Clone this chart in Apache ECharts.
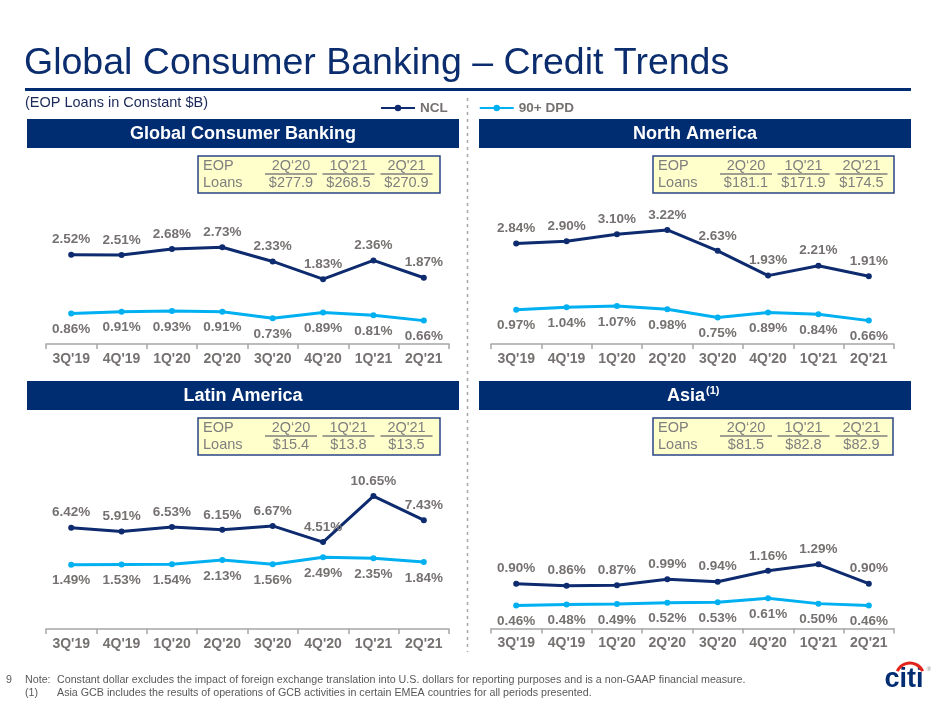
<!DOCTYPE html>
<html><head><meta charset="utf-8">
<script src="https://cdn.jsdelivr.net/npm/echarts@6/dist/echarts.min.js"></script>
<style>html,body{margin:0;padding:0;background:#fff}#c{width:943px;height:701px}</style>
</head><body><div id="c"></div>
<script>
// ---------- DATA ----------
const categories = ["3Q'19","4Q'19","1Q'20","2Q'20","3Q'20","4Q'20","1Q'21","2Q'21"];
const seriesNames = ["NCL","90+ DPD"];

const gcbNCL  = [2.52,2.51,2.68,2.73,2.33,1.83,2.36,1.87];
const gcbDPD  = [0.86,0.91,0.93,0.91,0.73,0.89,0.81,0.66];
const naNCL   = [2.84,2.90,3.10,3.22,2.63,1.93,2.21,1.91];
const naDPD   = [0.97,1.04,1.07,0.98,0.75,0.89,0.84,0.66];
const latNCL  = [6.42,5.91,6.53,6.15,6.67,4.51,10.65,7.43];
const latDPD  = [1.49,1.53,1.54,2.13,1.56,2.49,2.35,1.84];
const asiaNCL = [0.90,0.86,0.87,0.99,0.94,1.16,1.29,0.90];
const asiaDPD = [0.46,0.48,0.49,0.52,0.53,0.61,0.50,0.46];

const eopPeriods = ["2Q\u201820","1Q'21","2Q'21"];
const gcbEOP  = [277.9,268.5,270.9];
const naEOP   = [181.1,171.9,174.5];
const latEOP  = [15.4,13.8,13.5];
const asiaEOP = [81.5,82.8,82.9];

const panelTitles = ["Global Consumer Banking","North America","Latin America","Asia"];
const mainTitle = "Global Consumer Banking \u2013 Credit Trends";
const subTitle = "(EOP Loans in Constant $B)";
const note1 = "Constant dollar excludes the impact of foreign exchange translation into U.S. dollars for reporting purposes and is a non-GAAP financial measure.";
const note2 = "Asia GCB includes the results of operations of GCB activities in certain EMEA countries for all periods presented.";

// ---------- STYLE / LAYOUT ----------
const FONT = "'Liberation Sans', Arial, sans-serif";
const NAVY = '#0d2b6e', BLUE = '#00b0f0', GRAY = '#767171', HDR = '#002d72', TITLE = '#0b2d6e';

const panels = [
  {title:panelTitles[0], ncl:gcbNCL, dpd:gcbDPD, eop:gcbEOP, grid:{left:46,top:220,width:403,height:124}, min:0, max:3.5, hdr:[27,119], box:[198,156,242]},
  {title:panelTitles[1], ncl:naNCL, dpd:naDPD, eop:naEOP, grid:{left:491,top:220,width:403,height:124}, min:0, max:3.5, hdr:[479,119], box:[653,156,241]},
  {title:panelTitles[2], ncl:latNCL, dpd:latDPD, eop:latEOP, grid:{left:46,top:486,width:403,height:143}, min:-7.1, max:12, hdr:[27,381], box:[198,418,242]},
  {title:panelTitles[3], ncl:asiaNCL, dpd:asiaDPD, eop:asiaEOP, grid:{left:491,top:529,width:403,height:99.5}, min:0, max:2, hdr:[479,381], box:[653,418,240]}
];

const grids = [], xAxes = [], yAxes = [], series = [], graphics = [];

const fmt = p => p.value.toFixed(2) + '%';

panels.forEach((p, i) => {
  grids.push(Object.assign({}, p.grid));
  xAxes.push({
    type:'category', gridIndex:i, data:categories, boundaryGap:true,
    axisLine:{show:true, onZero:false, lineStyle:{color:'#a6a6a6', width:1.5}},
    axisTick:{show:true, length:5, lineStyle:{color:'#a6a6a6', width:1.5}},
    axisLabel:{color:GRAY, fontSize:14, fontWeight:'bold', fontFamily:FONT, margin:8},
    splitLine:{show:false}
  });
  yAxes.push({type:'value', gridIndex:i, min:p.min, max:p.max, show:false, splitLine:{show:false}});
  series.push({
    name:seriesNames[1], type:'line', xAxisIndex:i, yAxisIndex:i, data:p.dpd,
    symbol:'circle', symbolSize:6, showAllSymbol:true,
    lineStyle:{color:BLUE, width:3}, itemStyle:{color:BLUE},
    label:{show:true, position:'bottom', distance:6, color:GRAY, fontSize:13.5, fontWeight:'bold', fontFamily:FONT, formatter:fmt},
    z:2
  });
  series.push({
    name:seriesNames[0], type:'line', xAxisIndex:i, yAxisIndex:i, data:p.ncl,
    symbol:'circle', symbolSize:6, showAllSymbol:true,
    lineStyle:{color:NAVY, width:3}, itemStyle:{color:NAVY},
    label:{show:true, position:'top', distance:5, color:GRAY, fontSize:13.5, fontWeight:'bold', fontFamily:FONT, formatter:fmt},
    z:3
  });

  // header bar
  const [hx, hy] = p.hdr;
  graphics.push({type:'rect', shape:{x:hx, y:hy, width:432, height:29}, style:{fill:HDR}, silent:true});
  if (i === 3) {
    graphics.push({type:'text', x:705, y:hy+15, style:{text:p.title, fill:'#fff', font:`bold 18px ${FONT}`, textAlign:'right', textVerticalAlign:'middle'}});
    graphics.push({type:'text', x:706, y:hy+10, style:{text:'(1)', fill:'#fff', font:`bold 11px ${FONT}`, textAlign:'left', textVerticalAlign:'middle'}});
  } else {
    graphics.push({type:'text', x:hx+216, y:hy+15, style:{text:p.title, fill:'#fff', font:`bold 18px ${FONT}`, textAlign:'center', textVerticalAlign:'middle'}});
  }

  // EOP table
  const [bx, by, bw] = p.box;
  graphics.push({type:'rect', shape:{x:bx, y:by, width:bw, height:37}, style:{fill:'#ffffcc', stroke:'#2a4585', lineWidth:1.5}});
  graphics.push({type:'text', x:bx+5, y:by+10, style:{text:'EOP', fill:'#7f7f7f', font:`14.5px ${FONT}`, textAlign:'left', textVerticalAlign:'middle'}});
  graphics.push({type:'text', x:bx+5, y:by+27, style:{text:'Loans', fill:'#7f7f7f', font:`14.5px ${FONT}`, textAlign:'left', textVerticalAlign:'middle'}});
  const colOff = [93, 150.5, 208.5];
  eopPeriods.forEach((per, j) => {
    const cx = bx + colOff[j];
    graphics.push({type:'text', x:cx, y:by+10, style:{text:per, fill:'#7f7f7f', font:`14.5px ${FONT}`, textAlign:'center', textVerticalAlign:'middle'}});
    graphics.push({type:'line', shape:{x1:cx-26, y1:by+18, x2:cx+26, y2:by+18}, style:{stroke:'#7f7f7f', lineWidth:1.5}});
    graphics.push({type:'text', x:cx, y:by+27, style:{text:'$' + p.eop[j].toFixed(1), fill:'#7f7f7f', font:`14.5px ${FONT}`, textAlign:'center', textVerticalAlign:'middle'}});
  });
});

// title & rule
graphics.push({type:'text', x:24, y:64, style:{text:mainTitle, fill:TITLE, font:`37.5px ${FONT}`, textAlign:'left', textVerticalAlign:'middle'}});
graphics.push({type:'rect', shape:{x:25, y:88, width:886, height:3}, style:{fill:HDR}});
graphics.push({type:'text', x:25, y:103, style:{text:subTitle, fill:'#1b2a5b', font:`14.5px ${FONT}`, textAlign:'left', textVerticalAlign:'middle'}});
// dashed separator
graphics.push({type:'line', shape:{x1:467.5, y1:98, x2:467.5, y2:652}, style:{stroke:'#a6a6a6', lineWidth:1.5, lineDash:[3,4]}});
// footnotes
const NF = `10.7px ${FONT}`;
graphics.push({type:'text', x:6, y:680, style:{text:'9', fill:'#595959', font:NF, textVerticalAlign:'middle'}});
graphics.push({type:'text', x:25, y:680, style:{text:'Note:', fill:'#595959', font:NF, textVerticalAlign:'middle'}});
graphics.push({type:'text', x:57, y:680, style:{text:note1, fill:'#595959', font:NF, textVerticalAlign:'middle'}});
graphics.push({type:'text', x:25, y:693, style:{text:'(1)', fill:'#595959', font:NF, textVerticalAlign:'middle'}});
graphics.push({type:'text', x:57, y:693, style:{text:note2, fill:'#595959', font:NF, textVerticalAlign:'middle'}});
// citi logo
graphics.push({type:'text', x:904, y:680, style:{text:'citi', fill:HDR, font:`bold 27px ${FONT}`, textAlign:'center', textVerticalAlign:'middle'}});
graphics.push({type:'arc', shape:{cx:910, cy:677, r:14, startAngle:Math.PI*205/180, endAngle:Math.PI*335/180, clockwise:true}, style:{stroke:'#e2231a', lineWidth:3, fill:null}});
graphics.push({type:'text', x:929, y:669, style:{text:'\u00ae', fill:'#888', font:`6px ${FONT}`, textAlign:'center', textVerticalAlign:'middle'}});

const chart = echarts.init(document.getElementById('c'), null, {renderer:'canvas'});
chart.setOption({
  backgroundColor:'#ffffff',
  animation:false,
  legend:{
    data:seriesNames, left:380, top:101, padding:0, itemWidth:34, itemHeight:8, itemGap:31,
    textStyle:{color:GRAY, fontSize:13.5, fontWeight:'bold', fontFamily:FONT}
  },
  grid:grids, xAxis:xAxes, yAxis:yAxes, series:series,
  graphic:{elements:graphics}
});
</script>
</body></html>
